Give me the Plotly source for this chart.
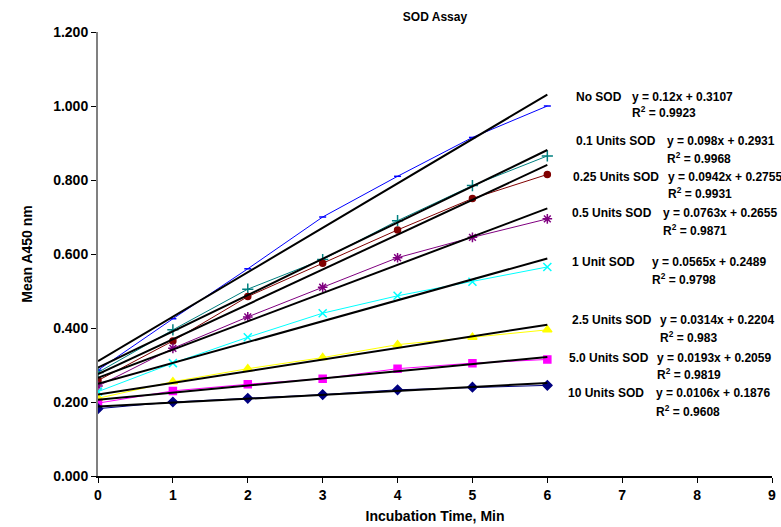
import plotly.graph_objects as go

# ---- data ----
times = [0, 1, 2, 3, 4, 5, 6]
series_names = ["No SOD", "0.1 Units SOD", "0.25 Units SOD", "0.5 Units SOD",
                "1 Unit SOD", "2.5 Units SOD", "5.0 Units SOD", "10 Units SOD"]
no_sod = [0.286, 0.425, 0.560, 0.700, 0.810, 0.915, 1.000]
u0_1 = [0.280, 0.395, 0.505, 0.585, 0.690, 0.785, 0.865]
u0_25 = [0.258, 0.365, 0.485, 0.575, 0.665, 0.750, 0.815]
u0_5 = [0.243, 0.345, 0.430, 0.510, 0.590, 0.645, 0.695]
u1 = [0.228, 0.305, 0.375, 0.440, 0.487, 0.525, 0.565]
u2_5 = [0.210, 0.255, 0.290, 0.320, 0.355, 0.375, 0.395]
u5_0 = [0.197, 0.230, 0.248, 0.263, 0.290, 0.305, 0.315]
u10 = [0.182, 0.200, 0.210, 0.220, 0.233, 0.240, 0.245]
slopes = [0.12, 0.098, 0.0942, 0.0763, 0.0565, 0.0314, 0.0193, 0.0106]
intercepts = [0.3107, 0.2931, 0.2755, 0.2655, 0.2489, 0.2204, 0.2059, 0.1876]
r_squared = ["0.9923", "0.9968", "0.9931", "0.9871", "0.9798", "0.983", "0.9819", "0.9608"]
slope_text = ["0.12", "0.098", "0.0942", "0.0763", "0.0565", "0.0314", "0.0193", "0.0106"]

values = [no_sod, u0_1, u0_25, u0_5, u1, u2_5, u5_0, u10]

colors = ["#0000FF", "#008080", "#800000", "#800080", "#00FFFF", "#FFFF00", "#FF00FF", "#000080"]
symbols = ["line-ew-open", "cross-thin-open", "circle", "asterisk-open", "x-thin-open",
           "triangle-up", "square", "diamond"]
sizes = [5, 8, 6, 8, 8, 8, 7, 7]

FONT = "Liberation Sans, Arial, sans-serif"

fig = go.Figure()

for name, ys, c, s, sz in zip(series_names, values, colors, symbols, sizes):
    fig.add_trace(go.Scatter(
        x=times, y=ys, mode="lines+markers", name=name,
        line=dict(color=c, width=1),
        marker=dict(color=c, symbol=s, size=sz, line=dict(color=c, width=1.5)),
        showlegend=False))

for m, b in zip(slopes, intercepts):
    xs = [times[0], times[-1]]
    fig.add_trace(go.Scatter(
        x=xs, y=[m * x + b for x in xs], mode="lines",
        line=dict(color="black", width=2), showlegend=False, hoverinfo="skip"))

# annotation pixel positions (label_x, eq_x, y_line1, y_line2)
L, R, T, B = 98, 772, 32, 476
label_pos = [
    (574, 630, 97, 112),
    (574, 665, 141, 158),
    (571, 666, 177, 193),
    (570, 661, 213, 230),
    (570, 650, 262, 279),
    (570, 658, 320, 337),
    (567, 655, 358, 374),
    (566, 654, 393, 411),
]

def px(x):
    return (x - L) / (R - L)

def py(y):
    return (B - y) / (B - T)

afont = dict(family=FONT, size=12, color="black", weight="bold")
for name, m, b, r2, st, (lx, ex, y1, y2) in zip(series_names, slopes, intercepts, r_squared,
                                                slope_text, label_pos):
    fig.add_annotation(x=px(lx), y=py(y1), xref="paper", yref="paper", text=name,
                       showarrow=False, xanchor="left", yanchor="middle", font=afont)
    fig.add_annotation(x=px(ex), y=py(y1), xref="paper", yref="paper",
                       text=f"y = {st}x + {b}",
                       showarrow=False, xanchor="left", yanchor="middle", font=afont)
    fig.add_annotation(x=px(ex), y=py(y2), xref="paper", yref="paper",
                       text=f"R<sup>2</sup> = {r2}",
                       showarrow=False, xanchor="left", yanchor="middle", font=afont)

fig.update_layout(
    width=781, height=527,
    margin=dict(l=L, r=781 - R, t=T, b=527 - B, autoexpand=False),
    paper_bgcolor="white", plot_bgcolor="white",
    font=dict(family=FONT, size=12, color="black"),
    title=dict(text="SOD Assay", x=(L + R) / 2 / 781, xanchor="center",
               y=1 - 17 / 527, yanchor="middle",
               font=dict(family=FONT, size=12, weight="bold", color="black")),
    xaxis=dict(range=[0, 9], dtick=1, tick0=0, showgrid=False, zeroline=False,
               showline=True, linecolor="black", linewidth=2,
               ticks="outside", ticklen=5, tickcolor="black", tickwidth=1,
               tickfont=dict(family=FONT, size=14, weight="bold"),
               title=dict(text="Incubation Time, Min", standoff=9,
                          font=dict(family=FONT, size=14, weight="bold"))),
    yaxis=dict(range=[0, 1.2], dtick=0.2, tick0=0, tickformat=".3f", showgrid=False,
               zeroline=False, showline=True, linecolor="#808080", linewidth=2,
               ticks="outside", ticklen=5, tickcolor="black", tickwidth=1,
               tickfont=dict(family=FONT, size=14, weight="bold"),
               title=dict(text="Mean A450 nm", standoff=17,
                          font=dict(family=FONT, size=14, weight="bold"))),
)

fig.write_html("out.html", config={"displayModeBar": False},
               post_script="document.body.style.margin='0';document.body.style.overflow='hidden';")
